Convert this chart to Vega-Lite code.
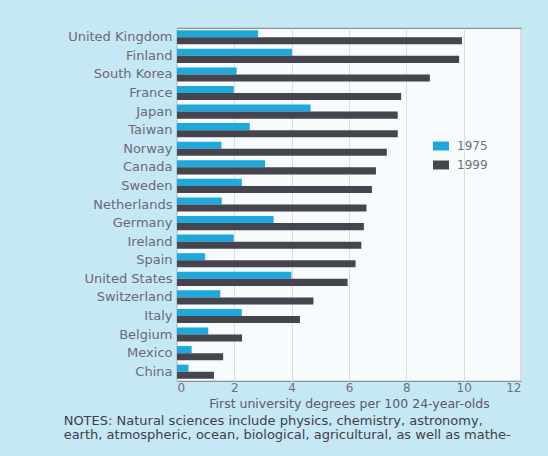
{
  "$schema": "https://vega.github.io/schema/vega-lite/v6.json",
  "autosize": "none",
  "width": 344,
  "height": 353,
  "padding": {"left": 177, "top": 28, "right": 27, "bottom": 75},
  "background": "#c6e7f4",
  "data": {"values": [
    {"country": "United Kingdom", "year": "1975", "value": 2.83},
    {"country": "United Kingdom", "year": "1999", "value": 9.94},
    {"country": "Finland", "year": "1975", "value": 4.01},
    {"country": "Finland", "year": "1999", "value": 9.84},
    {"country": "South Korea", "year": "1975", "value": 2.08},
    {"country": "South Korea", "year": "1999", "value": 8.82},
    {"country": "France", "year": "1975", "value": 1.98},
    {"country": "France", "year": "1999", "value": 7.82},
    {"country": "Japan", "year": "1975", "value": 4.66},
    {"country": "Japan", "year": "1999", "value": 7.7},
    {"country": "Taiwan", "year": "1975", "value": 2.54},
    {"country": "Taiwan", "year": "1999", "value": 7.7},
    {"country": "Norway", "year": "1975", "value": 1.55},
    {"country": "Norway", "year": "1999", "value": 7.32},
    {"country": "Canada", "year": "1975", "value": 3.07},
    {"country": "Canada", "year": "1999", "value": 6.94},
    {"country": "Sweden", "year": "1975", "value": 2.26},
    {"country": "Sweden", "year": "1999", "value": 6.8},
    {"country": "Netherlands", "year": "1975", "value": 1.56},
    {"country": "Netherlands", "year": "1999", "value": 6.61},
    {"country": "Germany", "year": "1975", "value": 3.37},
    {"country": "Germany", "year": "1999", "value": 6.52},
    {"country": "Ireland", "year": "1975", "value": 1.98},
    {"country": "Ireland", "year": "1999", "value": 6.43},
    {"country": "Spain", "year": "1975", "value": 0.98},
    {"country": "Spain", "year": "1999", "value": 6.23},
    {"country": "United States", "year": "1975", "value": 3.99},
    {"country": "United States", "year": "1999", "value": 5.95},
    {"country": "Switzerland", "year": "1975", "value": 1.51},
    {"country": "Switzerland", "year": "1999", "value": 4.76},
    {"country": "Italy", "year": "1975", "value": 2.26},
    {"country": "Italy", "year": "1999", "value": 4.29},
    {"country": "Belgium", "year": "1975", "value": 1.09},
    {"country": "Belgium", "year": "1999", "value": 2.27},
    {"country": "Mexico", "year": "1975", "value": 0.51},
    {"country": "Mexico", "year": "1999", "value": 1.61},
    {"country": "China", "year": "1975", "value": 0.4},
    {"country": "China", "year": "1999", "value": 1.29}
  ]},
  "title": {
    "text": ["NOTES: Natural sciences include physics, chemistry, astronomy,", "earth, atmospheric, ocean, biological, agricultural, as well as mathe-"],
    "orient": "bottom",
    "anchor": "start",
    "frame": "bounds",
    "font": "DejaVu Sans",
    "fontSize": 13,
    "fontWeight": "normal",
    "color": "#40404c",
    "lineHeight": 14,
    "offset": 5,
    "dx": -4
  },
  "mark": {"type": "bar"},
  "encoding": {
    "y": {
      "field": "country", "type": "nominal", "sort": null,
      "scale": {"paddingInner": 0.24, "paddingOuter": 0.12},
      "axis": {"title": null, "ticks": false, "domain": false, "labelFont": "DejaVu Sans", "labelFontSize": 13, "labelColor": "#6a6a78", "labelPadding": 5}
    },
    "yOffset": {"field": "year", "type": "nominal", "scale": {"paddingInner": 0}},
    "x": {
      "field": "value", "type": "quantitative",
      "scale": {"domain": [0, 12], "nice": false},
      "axis": {
        "values": [0, 2, 4, 6, 8, 10, 12],
        "title": "First university degrees per 100 24-year-olds",
        "titleFont": "DejaVu Sans", "titleFontSize": 12.5, "titleFontWeight": "normal", "titleColor": "#5a5a66", "titlePadding": 4,
        "labelFont": "DejaVu Sans", "labelFontSize": 12, "labelColor": "#70707c", "labelPadding": 1,
        "domain": false, "ticks": false,
        "grid": true, "gridColor": "#d8dde0", "gridWidth": 1
      }
    },
    "color": {
      "field": "year", "type": "nominal",
      "scale": {"domain": ["1975", "1999"], "range": ["#1ea8dc", "#45454f"]},
      "legend": {
        "title": null, "orient": "none", "legendX": 256, "legendY": 110,
        "symbolType": "M-1,-0.56H1V0.56H-1Z", "symbolSize": 256, "symbolStrokeWidth": 0,
        "labelFont": "DejaVu Sans", "labelFontSize": 12, "labelColor": "#70707c",
        "labelOffset": 8, "rowPadding": 5
      }
    }
  },
  "config": {
    "view": {"fill": "#f7fbfd", "stroke": "#8a9096", "strokeWidth": 1.2}
  }
}
